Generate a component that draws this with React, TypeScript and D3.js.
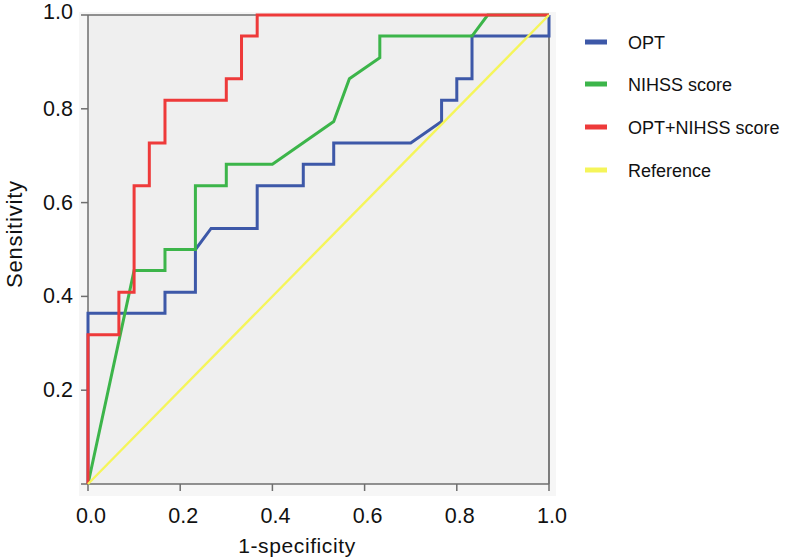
import React from "react";
import * as d3 from "d3";

const seriesNames = ["OPT", "NIHSS score", "OPT+NIHSS score", "Reference"];
const seriesColors = ["#3D58A8", "#3CB54A", "#EE3A3A", "#F5F55A"];

const optFpr = [0, 0, 0.167, 0.167, 0.233, 0.233, 0.267, 0.367, 0.367, 0.467, 0.467, 0.533, 0.533, 0.7, 0.767, 0.767, 0.8, 0.8, 0.833, 0.833, 1, 1];
const optTpr = [0, 0.364, 0.364, 0.409, 0.409, 0.5, 0.545, 0.545, 0.636, 0.636, 0.682, 0.682, 0.727, 0.727, 0.773, 0.818, 0.818, 0.864, 0.864, 0.955, 0.955, 1];

const nihssFpr = [0, 0.1, 0.167, 0.167, 0.233, 0.233, 0.3, 0.3, 0.4, 0.533, 0.567, 0.633, 0.633, 0.833, 0.867, 1];
const nihssTpr = [0, 0.455, 0.455, 0.5, 0.5, 0.636, 0.636, 0.682, 0.682, 0.773, 0.864, 0.909, 0.955, 0.955, 1, 1];

const comboFpr = [0, 0, 0.067, 0.067, 0.1, 0.1, 0.133, 0.133, 0.167, 0.167, 0.3, 0.3, 0.333, 0.333, 0.367, 0.367, 1];
const comboTpr = [0, 0.318, 0.318, 0.409, 0.409, 0.636, 0.636, 0.727, 0.727, 0.818, 0.818, 0.864, 0.864, 0.955, 0.955, 1, 1];

const refFpr = [0, 1];
const refTpr = [0, 1];

const tickValues = [0, 0.2, 0.4, 0.6, 0.8, 1.0];

const xTitle = "1-specificity";
const yTitle = "Sensitivity";

export default function App() {
  const W = 786, H = 560;
  const left = 88, right = 549, top = 15, bottom = 484;
  const x = d3.scaleLinear().domain([0, 1]).range([left, right]);
  const y = d3.scaleLinear().domain([0, 1]).range([bottom, top]);
  const line = d3.line<[number, number]>().x(d => x(d[0])).y(d => y(d[1]));

  const series = [
    { fpr: optFpr, tpr: optTpr, w: 3 },
    { fpr: nihssFpr, tpr: nihssTpr, w: 3 },
    { fpr: comboFpr, tpr: comboTpr, w: 3 },
    { fpr: refFpr, tpr: refTpr, w: 2.4 },
  ];
  const font = "'Liberation Sans', Arial, sans-serif";
  const axisColor = "#6e6e6e";

  return (
    <svg width={W} height={H} style={{ position: "absolute", left: 0, top: 0, background: "#fff" }} fontFamily={font}>
      <rect x={79} y={12} width={477} height={484} fill="#f6f6f6" />
      <rect x={left} y={top} width={right - left} height={bottom - top} fill="#efefef" />
      <line x1={left} x2={right} y1={top} y2={top} stroke={axisColor} strokeWidth={1.5} />
      <line x1={right} x2={right} y1={top} y2={bottom} stroke="#555" strokeWidth={1.5} />
      <line x1={left} x2={left} y1={top} y2={bottom} stroke={axisColor} strokeWidth={1.5} />
      <line x1={left} x2={right} y1={bottom} y2={bottom} stroke={axisColor} strokeWidth={1.5} />
      {tickValues.map(t => (
        <g key={"x" + t}>
          <line x1={x(t)} x2={x(t)} y1={bottom} y2={bottom + 7} stroke={axisColor} strokeWidth={1.5} />
          <text x={x(t) + 3} y={523} fontSize={21.5} textAnchor="middle" fill="#111">{d3.format(".1f")(t)}</text>
        </g>
      ))}
      {tickValues.map(t => (
        <g key={"y" + t}>
          <line x1={left - 7} x2={left} y1={y(t)} y2={y(t)} stroke={axisColor} strokeWidth={1.5} />
          {t > 0 && (
            <text x={73} y={y(t) + (t === 1 ? 4 : 7)} fontSize={21.5} textAnchor="end" fill="#111">{d3.format(".1f")(t)}</text>
          )}
        </g>
      ))}
      {series.map((s, i) => (
        <path
          key={i}
          d={line(s.fpr.map((f, j) => [f, s.tpr[j]] as [number, number])) || ""}
          fill="none"
          stroke={seriesColors[i]}
          strokeWidth={s.w}
          strokeLinejoin="miter"
        />
      ))}
      <text x={297} y={553} fontSize={21} letterSpacing={0.6} textAnchor="middle" fill="#111">{xTitle}</text>
      <text transform={`translate(22,234) rotate(-90)`} fontSize={22} letterSpacing={0.8} textAnchor="middle" fill="#111">{yTitle}</text>
      {seriesNames.map((n, i) => {
        const cy = [42, 84, 127, 170][i];
        return (
          <g key={n}>
            <rect x={585} y={cy - 2.5} width={22} height={5} fill={seriesColors[i]} />
            <text x={628} y={cy + 7} fontSize={18} fill="#111">{n}</text>
          </g>
        );
      })}
    </svg>
  );
}
